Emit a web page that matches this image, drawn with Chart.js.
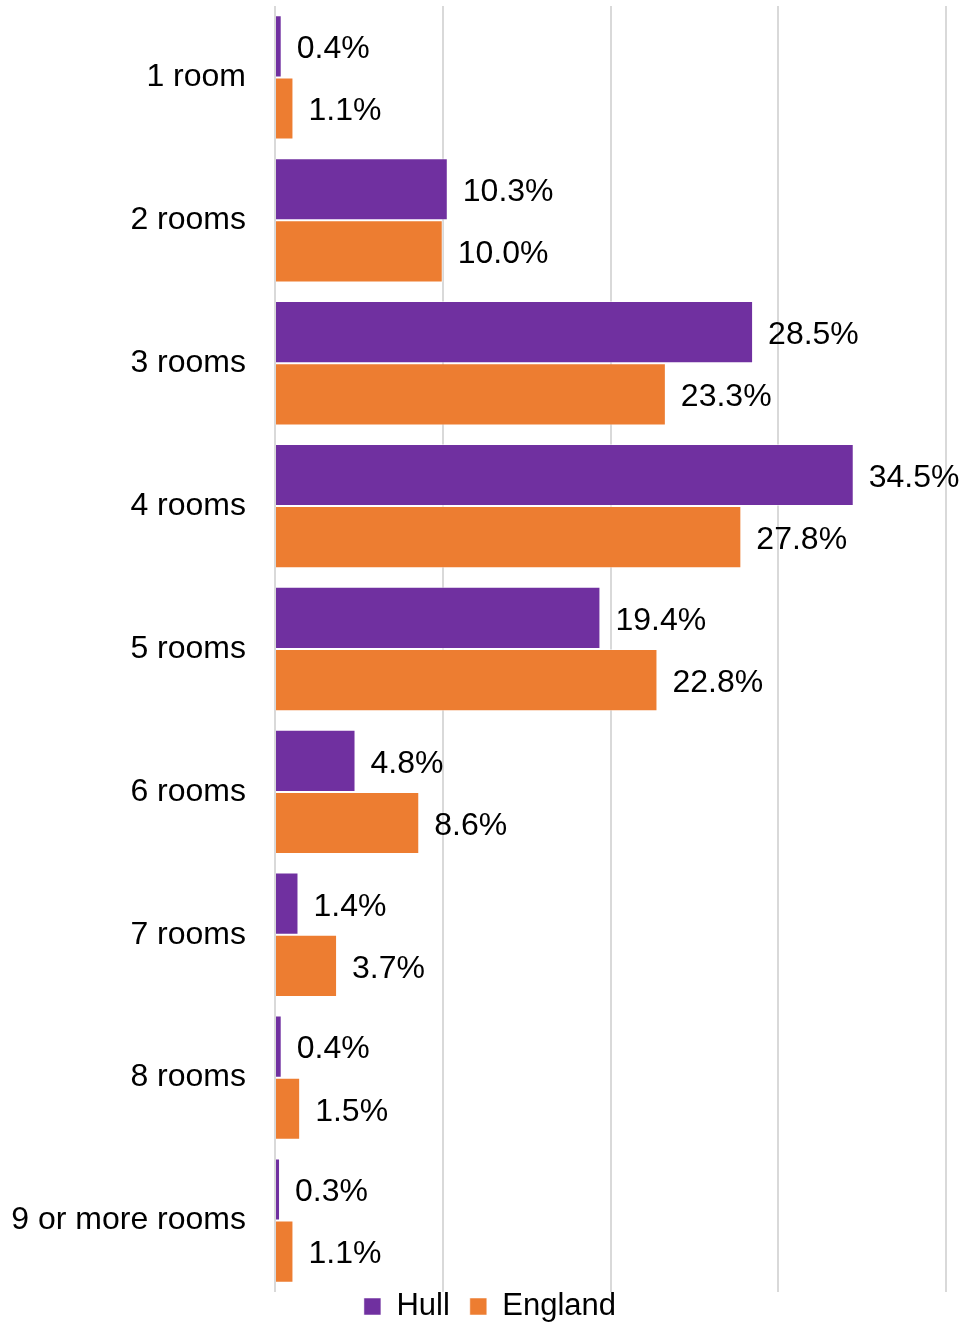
<!DOCTYPE html>
<html>
<head>
<meta charset="utf-8">
<script src="https://cdn.jsdelivr.net/npm/chart.js@4/dist/chart.umd.min.js"></script>
<style>
  html, body { margin: 0; padding: 0; background: #fff; }
  #wrap { width: 961px; height: 1325px; position: relative; }
</style>
</head>
<body>
<div id="wrap"><canvas id="roomsChart"></canvas></div>
<script>
// Dữ liệu
const categories = ['1 room', '2 rooms', '3 rooms', '4 rooms', '5 rooms', '6 rooms', '7 rooms', '8 rooms', '9 or more rooms'];
const hullValues = [0.4, 10.3, 28.5, 34.5, 19.4, 4.8, 1.4, 0.4, 0.3];
const englandValues = [1.1, 10.0, 23.3, 27.8, 22.8, 8.6, 3.7, 1.5, 1.1];

const FONT = 'Liberation Sans, Arial, sans-serif';

// Nhãn giá trị ở cuối thanh
const barLabels = {
    id: 'barLabels',
    afterDatasetsDraw(chart) {
        const ctx = chart.ctx;
        ctx.save();
        ctx.font = '32px ' + FONT;
        ctx.fillStyle = '#000';
        ctx.textBaseline = 'middle';
        ctx.textAlign = 'left';
        chart.data.datasets.forEach((ds, i) => {
            chart.getDatasetMeta(i).data.forEach((bar, j) => {
                ctx.fillText(ds.data[j].toFixed(1) + '%', bar.x + 15, bar.y + 3);
            });
        });
        ctx.restore();
    }
};

// Thu gọn chú thích và kéo lên sát trục
const legendHeight = {
    id: 'legendHeight',
    beforeInit(chart) {
        const fit = chart.legend.fit;
        chart.legend.fit = function () {
            fit.bind(chart.legend)();
            this.height = 33;
        };
    },
    afterLayout(chart) {
        const lg = chart.legend;
        lg.top -= 21;
        lg.height = lg.bottom - lg.top;
        lg.left += 11;
        lg.right += 11;
    }
};

new Chart(document.getElementById('roomsChart'), {
    type: 'bar',
    data: {
        labels: categories,
        datasets: [{
            label: 'Hull',
            data: hullValues,
            backgroundColor: '#7030A0',
            borderColor: 'rgba(255,255,255,0.5)',
            borderWidth: 1,
            barPercentage: 1,
            categoryPercentage: 0.87
        }, {
            label: 'England',
            data: englandValues,
            backgroundColor: '#ED7D31',
            borderColor: 'rgba(255,255,255,0.5)',
            borderWidth: 1,
            barPercentage: 1,
            categoryPercentage: 0.87
        }]
    },
    options: {
        indexAxis: 'y',
        responsive: true,
        maintainAspectRatio: false,
        animation: false,
        layout: { padding: { top: 6, right: 15, left: 12, bottom: 0 } },
        plugins: {
            legend: {
                position: 'bottom',
                labels: {
                    font: { family: FONT, size: 31 },
                    color: '#000',
                    boxWidth: 17,
                    boxHeight: 17,
                    padding: 20
                }
            },
            tooltip: { enabled: false }
        },
        scales: {
            x: {
                min: 0,
                max: 40,
                ticks: { display: false, stepSize: 10 },
                grid: { color: '#d9d9d9', lineWidth: 2, drawTicks: false },
                border: { display: false },
                afterFit(scale) { scale.height = 0; }
            },
            y: {
                grid: { display: false },
                border: { display: false },
                ticks: {
                    font: { family: FONT, size: 32 },
                    color: '#000',
                    padding: 21
                },
                afterFit(scale) {
                    scale.width = 263;
                    scale.paddingTop = 0;
                    scale.paddingBottom = 0;
                }
            }
        }
    },
    plugins: [barLabels, legendHeight]
});
</script>
</body>
</html>
